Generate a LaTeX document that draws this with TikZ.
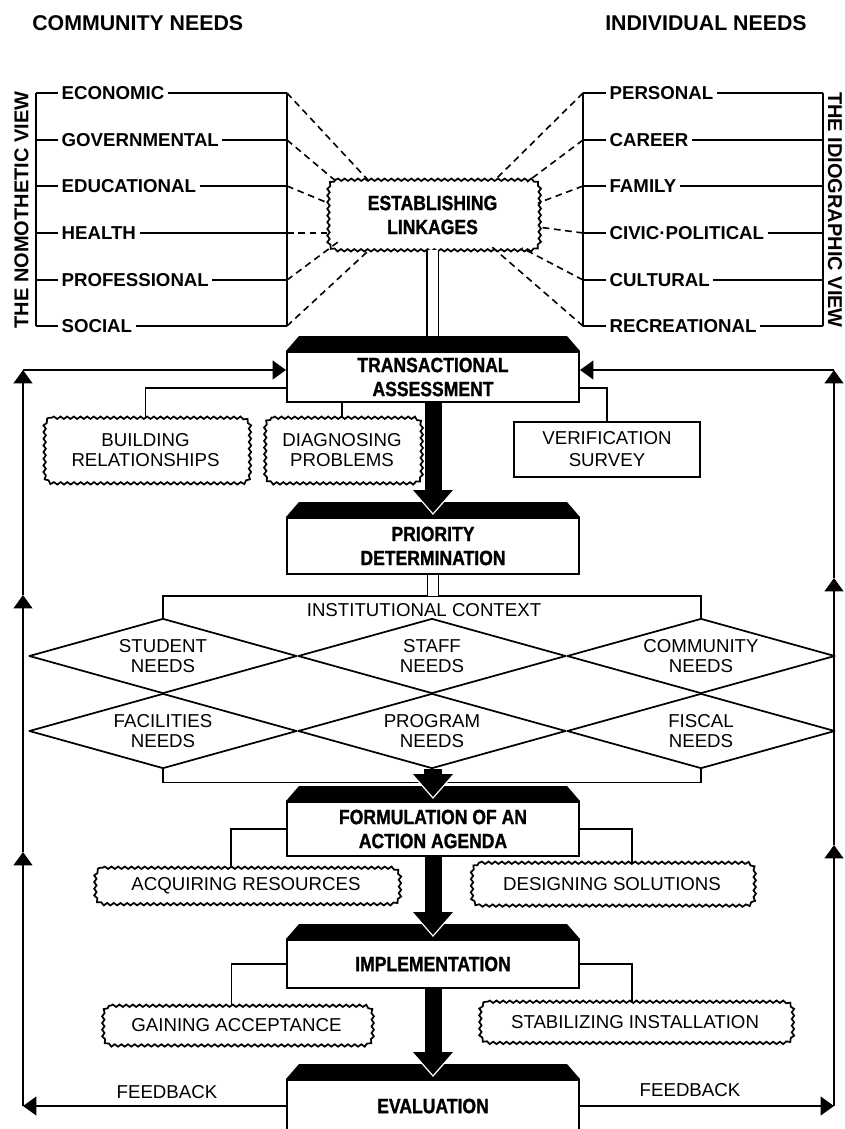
\documentclass[tikz,border=0pt]{standalone}
\usepackage{fontspec}
\setmainfont{Liberation Sans}
\newfontfamily\condfont[FakeStretch=0.85,FakeBold=1.2]{Liberation Sans}
\usetikzlibrary{calc,arrows.meta,shapes.geometric,decorations.pathmorphing}
\newcommand\bandtop[1]{\fill (#1.north west) -- ++(13,-15) -- ($(#1.north east)+(-13,-15)$) -- (#1.north east) -- cycle;}
\newcommand\bigarrow[2]{%
  \fill ($(#1)+(-8.5,0)$) rectangle ($(#2)+(8.5,-23)$);
  \fill ($(#2)+(-21,-24)$) -- (#2) -- ($(#2)+(21,-24)$) -- cycle;
  \draw[white, line width=0.9pt] ($(#2)+(-21,-24)$) -- (#2) -- ($(#2)+(21,-24)$);}
\newcommand\cloudframe[1]{%
  \draw[cloudline] ($(#1.north west)+(9,0)$) -- ($(#1.north east)+(-9,0)$)
    arc[start angle=-90, end angle=0, radius=9]
    -- ($(#1.south east)+(0,-9)$)
    arc[start angle=0, end angle=90, radius=9]
    -- ($(#1.south west)+(9,0)$)
    arc[start angle=90, end angle=180, radius=9]
    -- ($(#1.north west)+(0,9)$)
    arc[start angle=180, end angle=270, radius=9] -- cycle;}
\begin{document}
\begin{tikzpicture}[x=0.75pt,y=-0.75pt,
  every node/.style={inner sep=0pt},
  hdr/.style={font=\bfseries\fontsize{16}{18}\selectfont},
  lbl/.style={font=\bfseries\fontsize{14}{16}\selectfont, inner sep=2.5pt, text height=10pt, text depth=0pt},
  sidelbl/.style={font=\bfseries\fontsize{15}{17}\selectfont},
  ln/.style={line width=1.3pt},
  branch/.style={line width=1.1pt},
  dsh/.style={line width=1.2pt, dash pattern=on 5pt off 3.5pt},
  stage/.style={draw, line width=1.5pt, fill=white, minimum width=219pt, align=center, font=\condfont\bfseries\fontsize{15.5}{18}\selectfont},
  cloudtxt/.style={align=center, font=\fontsize{14}{15}\selectfont},
  cloudline/.style={line width=1.3pt, decorate, decoration={snake, amplitude=0.9pt, segment length=5pt}},
  dia/.style={diamond, draw, line width=1.3pt, line join=round, shape aspect=3.57, minimum width=201pt, minimum height=56.25pt, align=center, font=\fontsize{14}{14.5}\selectfont},
  fb/.style={line width=1.5pt},
  fbarrow/.style={-{Triangle[length=10pt,width=14pt]}}
]
\useasboundingbox (0,0) rectangle (844,1129);
\clip (0,0) rectangle (844,1129);

% headers
\node[hdr, anchor=west] (hcom) at (32,23) {COMMUNITY NEEDS};
\node[hdr] (hind) at (706,23) {INDIVIDUAL NEEDS};

% side labels
\node[sidelbl, rotate=90] (nomo) at (21.5,210) {THE NOMOTHETIC VIEW};
\node[sidelbl, rotate=-90] (idio) at (835,210) {THE IDIOGRAPHIC VIEW};

% establishing linkages
\node[cloudtxt, font=\condfont\bfseries\fontsize{15.5}{18}\selectfont, minimum width=158pt, minimum height=52.5pt] (link) at (432.5,215) {ESTABLISHING\\LINKAGES};
\cloudframe{link}

% left list
\foreach \i/\n/\y/\t in {1/eco/93/ECONOMIC,2/gov/140/GOVERNMENTAL,3/edu/186/EDUCATIONAL,4/hea/233/HEALTH,5/pro/280/PROFESSIONAL,6/soc/326/SOCIAL}{
  \coordinate (eL\i) at (36,\y);
  \coordinate (eR\i) at (287,\y);
  \node[lbl, anchor=west] (\n) at (58,\y) {\t};
  \draw[ln] (eL\i) -- (\n.west);
  \draw[ln] (\n.east) -- (eR\i);
}
\draw[ln] (eL1) -- (eL6);
\draw[ln] (eR1) -- (eR6);
\foreach \i/\dx/\dy in {1/-64.5/-35,2/-95.5/-33,3/-104.5/-12,4/-105.5/18,5/-94.5/27,6/-65.5/37}{
  \draw[dsh] (eR\i) -- ($(link.center)+(\dx,\dy)$);
}

% right list
\foreach \i/\n/\y/\t in {1/per/93/PERSONAL,2/car/140/CAREER,3/fam/186/FAMILY,4/civ/233/CIVIC·POLITICAL,5/cul/280/CULTURAL,6/rec/326/RECREATIONAL}{
  \coordinate (iL\i) at (583,\y);
  \coordinate (iR\i) at (823,\y);
  \node[lbl, anchor=west] (\n) at (606,\y) {\t};
  \draw[ln] (iL\i) -- (\n.west);
  \draw[ln] (\n.east) -- (iR\i);
}
\draw[ln] (iL1) -- (iL6);
\draw[ln] (iR1) -- (iR6);
\foreach \i/\dx/\dy in {1/64.5/-37,2/94.5/-33,3/105.5/-12,4/105.5/12,5/89.5/33,6/59.5/32}{
  \draw[dsh] (iL\i) -- ($(link.center)+(\dx,\dy)$);
}

% stages
\node[stage, minimum height=37.5pt] (trans) at (433,377) {TRANSACTIONAL\\ASSESSMENT};
\node[stage, minimum height=42pt] (prio) at (433,546) {PRIORITY\\DETERMINATION};
\node[stage, minimum height=40.5pt] (form) at (433,829) {FORMULATION OF AN\\ACTION AGENDA};
\node[stage, minimum height=36pt] (impl) at (433,964) {IMPLEMENTATION};
\node[stage, minimum height=39pt] (eval) at (433,1106) {EVALUATION};
\bandtop{trans}
\bandtop{prio}
\bandtop{form}
\bandtop{impl}
\bandtop{eval}

% double line link -> trans
\coordinate (transtop) at ($(trans.north)+(0,-15)$);
\draw[line width=1.1pt, double distance=7.5pt] (link.south) -- (link.south |- transtop);

% transactional branches
\node[cloudtxt, minimum width=153.75pt, minimum height=48.75pt] (build) at (145.5,450.5) {BUILDING\\RELATIONSHIPS};
\cloudframe{build}
\node[cloudtxt, minimum width=117pt, minimum height=48.75pt] (diag) at (342,450.5) {DIAGNOSING\\PROBLEMS};
\cloudframe{diag}
\node[draw, line width=1.4pt, minimum width=139.5pt, minimum height=41.25pt, align=center, font=\fontsize{14}{16.5}\selectfont] (verif) at (607,449.5) {VERIFICATION\\SURVEY};
\draw[branch] (build.north) |- ($(trans.west)+(0,11)$);
\draw[branch] (diag.north) -- (diag.north |- trans.south);
\draw[branch] (verif.north) |- ($(trans.east)+(0,11)$);

% diamonds
\node[dia] (student) at (163,656) {STUDENT\\NEEDS};
\node[dia] (staff) at (432,656) {STAFF\\NEEDS};
\node[dia] (community) at (701,656) {COMMUNITY\\NEEDS};
\node[dia] (facil) at (163,731) {FACILITIES\\NEEDS};
\node[dia] (program) at (432,731) {PROGRAM\\NEEDS};
\node[dia] (fiscal) at (701,731) {FISCAL\\NEEDS};
\draw[ln] (student.north) -- ++(0,-22) coordinate (insttop) -| (community.north);
\draw[ln] (facil.south) -- ++(0,13) -| (fiscal.south);
\node[font=\fontsize{14}{16}\selectfont] (inst) at (424,610) {INSTITUTIONAL CONTEXT};
\draw[line width=1.1pt, double distance=7.5pt] (prio.south) -- (prio.south |- insttop);

% formulation branches
\node[cloudtxt, minimum width=228pt, minimum height=27pt] (acq) at (246,886) {ACQUIRING RESOURCES};
\cloudframe{acq}
\node[cloudtxt, minimum width=211.5pt, minimum height=31.5pt] (design) at (612,884) {DESIGNING SOLUTIONS};
\cloudframe{design}
\draw[branch] ($(acq.north)+(-15,0)$) |- (form.west);
\draw[branch] ($(design.north)+(20,0)$) |- (form.east);

% implementation branches
\node[cloudtxt, minimum width=201.75pt, minimum height=29.25pt] (gain) at (236.5,1025.5) {GAINING ACCEPTANCE};
\cloudframe{gain}
\node[cloudtxt, minimum width=234pt, minimum height=30.75pt] (stab) at (635,1022.5) {STABILIZING INSTALLATION};
\cloudframe{stab}
\draw[branch] ($(gain.north)+(-5,0)$) |- (impl.west);
\draw[branch] ($(stab.north)+(-3,0)$) |- (impl.east);

% thick arrows
\coordinate (tp) at ($(prio.north)+(0,-3)$);
\coordinate (tf) at ($(form.north)+(0,-3)$);
\coordinate (ti) at ($(impl.north)+(0,-3)$);
\coordinate (te) at ($(eval.north)+(0,-3)$);
\bigarrow{trans.south}{tp}
\bigarrow{program.south}{tf}
\bigarrow{form.south}{ti}
\bigarrow{impl.south}{te}

% feedback loops
\coordinate (cTL) at (23,370);
\coordinate (aL2) at (23,595);
\coordinate (aL3) at (23,852);
\coordinate (cBL) at (23,1106);
\coordinate (cTR) at (834,370);
\coordinate (aR2) at (834,578);
\coordinate (aR3) at (834,845);
\coordinate (cBR) at (834,1106);
\draw[fb, fbarrow] (eval.west) -- (cBL);
\draw[fb, fbarrow] (cBL) -- (aL3);
\draw[fb, fbarrow] (aL3) -- (aL2);
\draw[fb, fbarrow] (aL2) -- (cTL);
\draw[fb, fbarrow] (cTL) -- ($(trans.west)+(0,-7)$);
\draw[fb, fbarrow] (eval.east) -- (cBR);
\draw[fb, fbarrow] (cBR) -- (aR3);
\draw[fb, fbarrow] (aR3) -- (aR2);
\draw[fb, fbarrow] (aR2) -- (cTR);
\draw[fb, fbarrow] (cTR) -- ($(trans.east)+(0,-7)$);
\node[font=\fontsize{14}{16}\selectfont] (fbl) at (167,1092) {FEEDBACK};
\node[font=\fontsize{14}{16}\selectfont] (fbr) at (690,1090) {FEEDBACK};
\end{tikzpicture}
\end{document}
